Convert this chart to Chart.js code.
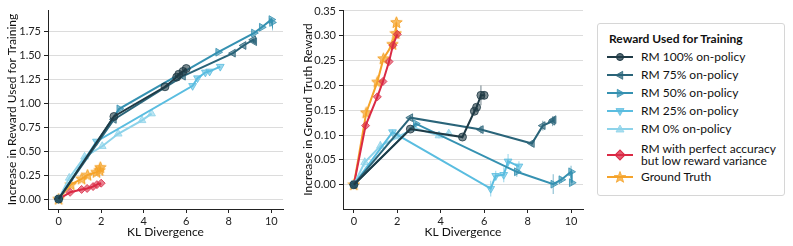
<!DOCTYPE html>
<html>
<head>
<meta charset="utf-8">
<script src="https://cdn.jsdelivr.net/npm/chart.js@4"></script>
<style>
  body { margin: 0; background: #fff; font-family: Lato, sans-serif; }
  #wrap { position: relative; width: 793px; height: 246px; }
  canvas { position: absolute; top: 0; }
  #legend {
    position: absolute; left: 597px; top: 23px; width: 188px; height: 173px;
    border: 1px solid #d6d6d6; border-radius: 3px; box-sizing: border-box;
    font-size: 12px; color: #111;
  }
  #legend .title { font-weight: bold; position: absolute; left: 11px; top: 7px; }
  #legend .item { position: absolute; left: 9px; display: flex; align-items: center; }
  #legend .item span { margin-left: 8px; line-height: 12px; }
</style>
</head>
<body>
<div id="wrap">
  <canvas id="trainChart" width="290" height="246" style="left:0"></canvas>
  <canvas id="gtChart" width="300" height="246" style="left:290px"></canvas>
  <div id="legend"><div class="title">Reward Used for Training</div></div>
</div>
<script>
// KL divergence of each checkpoint (same for both panels)
const kl100 = [0, 2.6, 5.0, 5.55, 5.65, 5.85, 6.0];
const kl75 = [0, 2.6, 5.85, 8.2, 8.7, 9.15, 9.2];
const kl50 = [0, 2.85, 7.5, 9.18, 9.55, 10.0, 10.03];
const kl25 = [0, 1.78, 6.3, 6.53, 6.9, 7.1, 7.6];
const kl0 = [0, 0.5, 1.22, 2.05, 2.8, 3.92, 4.37];
const klPerfect = [0, 0.54, 1.08, 1.34, 1.62, 1.8, 2.0];
const klGT = [0, 0.57, 1.08, 1.36, 1.78, 1.93, 1.96];

// increase in reward used for training (left panel)
const train100 = [0, 0.86, 1.17, 1.27, 1.30, 1.33, 1.36];
const train75 = [0, 0.83, 1.28, 1.52, 1.60, 1.66, 1.64];
const train50 = [0, 0.94, 1.53, 1.73, 1.79, 1.87, 1.84];
const train25 = [0, 0.60, 1.18, 1.26, 1.32, 1.33, 1.38];
const train0 = [0, 0.22, 0.44, 0.55, 0.68, 0.82, 0.89];
const trainPerfect = [0, 0.07, 0.10, 0.11, 0.13, 0.15, 0.165];
const trainGT = [0, 0.15, 0.21, 0.25, 0.28, 0.30, 0.33];

// increase in ground truth reward (right panel)
const gt100 = [0, 0.112, 0.096, 0.148, 0.156, 0.180, 0.180];
const gt75 = [0, 0.135, 0.111, 0.083, 0.119, 0.128, 0.131];
const gt50 = [0, 0.123, 0.026, 0.001, 0.010, 0.026, 0.004];
const gt25 = [0, 0.106, -0.008, 0.018, 0.020, 0.047, 0.037];
const gt0 = [0, 0.045, 0.078, 0.097, 0.114, 0.099, 0.103];
const gtPerfect = [0, 0.119, 0.177, 0.208, 0.248, 0.281, 0.303];
const gtGT = [0, 0.145, 0.207, 0.254, 0.283, 0.305, 0.327];

// error bar half widths on ground truth panel
const gtErr100 = [0, 0.004, 0.003, 0.006, 0.006, 0.02, 0.008];
const gtErr75 = [0, 0.004, 0.008, 0.006, 0.01, 0.01, 0.006];
const gtErr50 = [0, 0.004, 0.01, 0.02, 0.006, 0.012, 0.005];
const gtErr25 = [0, 0.005, 0.016, 0.01, 0.015, 0.015, 0.01];
const gtErr0 = [0, 0.01, 0.01, 0.006, 0.008, 0.006, 0.006];
const gtErrPerfect = [0, 0.004, 0.004, 0.004, 0.004, 0.004, 0.004];
const gtErrGT = [0, 0.004, 0.004, 0.004, 0.004, 0.004, 0.004];

const xTicks = [0, 2, 4, 6, 8, 10];
const trainTicks = [0, 0.25, 0.5, 0.75, 1.0, 1.25, 1.5, 1.75];
const gtTicks = [0, 0.05, 0.1, 0.15, 0.2, 0.25, 0.3, 0.35];

const labels = ["RM 100% on-policy", "RM 75% on-policy", "RM 50% on-policy", "RM 25% on-policy",
  "RM 0% on-policy", "RM with perfect accuracy|but low reward variance", "Ground Truth"];
const colors = ["#1f3a45", "#2a6479", "#3591b1", "#5abde0", "#8dd3ea", "#da2a45", "#f5a32a"];

function starImage(color) {
  const c = document.createElement("canvas");
  c.width = 13; c.height = 13;
  const g = c.getContext("2d");
  g.beginPath();
  for (let i = 0; i < 10; i++) {
    const r = i % 2 === 0 ? 6 : 2.6;
    const a = -Math.PI / 2 + i * Math.PI / 5;
    g.lineTo(6.5 + r * Math.cos(a), 6.8 + r * Math.sin(a));
  }
  g.closePath();
  g.fillStyle = color + "b0";
  g.fill();
  g.strokeStyle = color;
  g.lineWidth = 1;
  g.stroke();
  return c;
}

const styles = [
  { pointStyle: "circle", rotation: 0, radius: 4 },
  { pointStyle: "triangle", rotation: -90, radius: 4.5 },
  { pointStyle: "triangle", rotation: 90, radius: 4.5 },
  { pointStyle: "triangle", rotation: 180, radius: 4.5 },
  { pointStyle: "triangle", rotation: 0, radius: 4.5 },
  { pointStyle: "rectRot", rotation: 0, radius: 4 },
  { pointStyle: starImage(colors[6]), rotation: 0, radius: 6 },
];

const kls = [kl100, kl75, kl50, kl25, kl0, klPerfect, klGT];

function makeSets(ys, errs) {
  return ys.map((y, i) => ({
    label: labels[i],
    data: kls[i].map((x, j) => ({ x: x, y: y[j] })),
    err: errs ? errs[i] : null,
    borderColor: colors[i],
    backgroundColor: colors[i] + "99",
    borderWidth: 2,
    pointStyle: styles[i].pointStyle,
    rotation: styles[i].rotation,
    pointRadius: styles[i].radius,
    pointBorderWidth: 1,
    pointBorderColor: colors[i] + "cc",
    tension: 0,
    order: i,
  }));
}

const errorBars = {
  id: "errorBars",
  beforeDatasetsDraw(chart) {
    const ctx = chart.ctx;
    const ys = chart.scales.y;
    chart.data.datasets.forEach((ds, i) => {
      if (!ds.err) return;
      const meta = chart.getDatasetMeta(i);
      ctx.save();
      ctx.strokeStyle = ds.borderColor + "88";
      ctx.lineWidth = 1.2;
      meta.data.forEach((pt, j) => {
        const e = ds.err[j];
        if (!e) return;
        const v = ds.data[j].y;
        ctx.beginPath();
        ctx.moveTo(pt.x, ys.getPixelForValue(v - e));
        ctx.lineTo(pt.x, ys.getPixelForValue(v + e));
        ctx.stroke();
      });
      ctx.restore();
    });
  },
};

function makeChart(id, sets, yMin, yMax, yTicks, yTitle, yWidth, rightPad, titlePad) {
  return new Chart(document.getElementById(id), {
    type: "line",
    data: { datasets: sets },
    plugins: [errorBars],
    options: {
      responsive: false,
      animation: false,
      layout: { padding: { top: 10, right: rightPad, left: 0, bottom: 0 } },
      plugins: { legend: { display: false }, tooltip: { enabled: false } },
      scales: {
        x: {
          type: "linear", min: -0.5, max: 10.55,
          afterBuildTicks: s => { s.ticks = xTicks.map(v => ({ value: v })); },
          afterFit: s => { s.height = 37; },
          ticks: { color: "#222", font: { family: "Lato", size: 11 }, padding: 2, maxRotation: 0 },
          grid: { drawOnChartArea: false, tickLength: 4, tickColor: "#222" },
          border: { color: "#222", width: 1 },
          title: { display: true, text: "KL Divergence", color: "#111", font: { family: "Lato", size: 12 }, padding: { top: 0, bottom: 7 } },
        },
        y: {
          type: "linear", min: yMin, max: yMax,
          afterBuildTicks: s => { s.ticks = yTicks.map(v => ({ value: v })); },
          afterFit: s => { s.width = yWidth; },
          ticks: { color: "#222", font: { family: "Lato", size: 11 }, padding: 3, callback: v => v.toFixed(2) },
          grid: { color: "#dcdcdc", lineWidth: 1, tickLength: 4, tickColor: "#222" },
          border: { color: "#222", width: 1 },
          title: { display: true, text: yTitle, color: "#111", font: { family: "Lato", size: 12 }, padding: { top: titlePad, bottom: 2 } },
        },
      },
    },
  });
}

makeChart("trainChart",
  makeSets([train100, train75, train50, train25, train0, trainPerfect, trainGT], null),
  -0.104, 1.97, trainTicks, "Increase in Reward Used for Training", 48, 3, 5);
makeChart("gtChart",
  makeSets([gt100, gt75, gt50, gt25, gt0, gtPerfect, gtGT],
    [gtErr100, gtErr75, gtErr50, gtErr25, gtErr0, gtErrPerfect, gtErrGT]),
  -0.049, 0.352, gtTicks, "Increase in Ground Truth Reward", 53, 7, 11);

// legend
const legend = document.getElementById("legend");
const rows = [33, 51, 69, 87, 105, 131, 153];
labels.forEach((lab, i) => {
  const item = document.createElement("div");
  item.className = "item";
  const multi = lab.includes("|");
  item.style.top = (rows[i] - (multi ? 12 : 6)) + "px";
  const c = colors[i];
  let marker;
  if (i === 0) marker = `<circle cx="13" cy="6" r="3.5" fill="${c}" fill-opacity="0.75" stroke="${c}"/>`;
  else if (i === 5) marker = `<rect x="9.5" y="2.5" width="7" height="7" transform="rotate(45 13 6)" fill="${c}" fill-opacity="0.75" stroke="${c}"/>`;
  else if (i === 6) marker = `<polygon points="13,0.5 14.5,4.5 18.7,4.6 15.4,7.2 16.6,11.3 13,8.9 9.4,11.3 10.6,7.2 7.3,4.6 11.5,4.5" fill="${c}" fill-opacity="0.75" stroke="${c}" stroke-width="0.8"/>`;
  else {
    const rot = [0, -90, 90, 180, 0][i];
    marker = `<polygon points="13,2 17,9 9,9" transform="rotate(${rot} 13 6.3)" fill="${c}" fill-opacity="0.75" stroke="${c}" stroke-width="0.8"/>`;
  }
  const svg = `<svg width="26" height="12"><line x1="0" y1="6" x2="26" y2="6" stroke="${c}" stroke-width="2"/>${marker}</svg>`;
  item.innerHTML = svg + `<span>${lab.replace("|", "<br>")}</span>`;
  legend.appendChild(item);
});
</script>
</body>
</html>
